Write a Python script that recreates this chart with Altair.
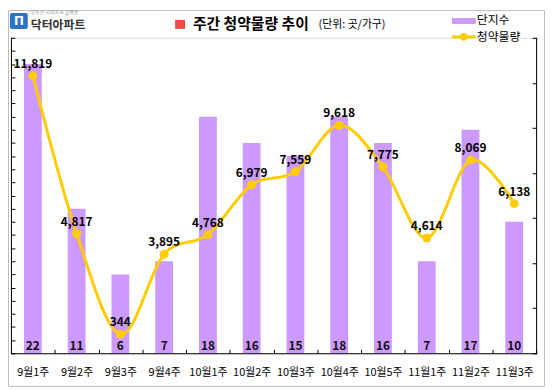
import altair as alt
import pandas as pd

weeks = ["9월1주", "9월2주", "9월3주", "9월4주", "10월1주", "10월2주",
         "10월3주", "10월4주", "10월5주", "11월1주", "11월2주", "11월3주"]
complexes = [22, 11, 6, 7, 18, 16, 15, 18, 16, 7, 17, 10]
supply = [11819, 4817, 344, 3895, 4768, 6979, 7559, 9618, 7775, 4614, 8069, 6138]

left_ticks = list(range(0, 25))
right_ticks = [-500, 1500, 3500, 5500, 7500, 9500, 11500, 13500]

df = pd.DataFrame({"week": weeks, "complexes": complexes, "supply": supply})
df["supply_label"] = df["supply"].map("{:,}".format)

W, H = 531, 319
FONT = "Noto Sans CJK KR"
BAR_C = "#CC99FF"
LINE_C = "#FFCC00"
one = alt.Data(values=[{"k": 1}])

x = alt.X("week:N", sort=weeks,
          scale=alt.Scale(paddingInner=0, paddingOuter=0),
          axis=alt.Axis(title=None, domain=False, tickSize=4, offset=-4,
                        tickBand="extent", tickColor="#000", labelAngle=0,
                        labelFont=FONT, labelFontSize=11, labelColor="#000",
                        labelPadding=13, grid=False))

bars = alt.Chart(df).mark_bar(width=18, color=BAR_C).encode(
    x=x,
    y=alt.Y("complexes:Q", scale=alt.Scale(domain=[0, 24], nice=False),
            axis=alt.Axis(title=None, orient="left", domain=False, labels=False,
                          tickSize=4, offset=-4, values=left_ticks,
                          tickColor="#000", grid=False)),
)
bar_labels = alt.Chart(df).mark_text(font=FONT, fontSize=12, fontWeight="bold",
                                     color="#111", baseline="middle").encode(
    x=x, y=alt.value(312), text="complexes:Q")

yr = alt.Y("supply:Q", scale=alt.Scale(domain=[-500, 13500], nice=False, zero=False),
           axis=alt.Axis(title=None, orient="right", domain=False, labels=False,
                         tickSize=4, offset=-4, values=right_ticks,
                         tickColor="#000", grid=False))
line = alt.Chart(df).mark_line(color=LINE_C, strokeWidth=3,
                               interpolate="cardinal", tension=0).encode(x=x, y=yr)
pts = alt.Chart(df).mark_point(filled=True, size=80, color=LINE_C, opacity=1).encode(x=x, y=yr)
pt_labels = alt.Chart(df).mark_text(font=FONT, fontSize=12, fontWeight="bold",
                                    color="#000", dy=-12, baseline="middle").encode(
    x=x, y=yr, text="supply_label:N")

left = alt.layer(bars, bar_labels)
right = alt.layer(line, pts, pt_labels)

# axis lines
ax_left = alt.Chart(one).mark_rule(color="#000").encode(
    x=alt.value(0.5), y=alt.value(0), y2=alt.value(H))
ax_right = alt.Chart(one).mark_rule(color="#000").encode(
    x=alt.value(W + 0.5), y=alt.value(0), y2=alt.value(H + 1))
ax_bottom = alt.Chart(one).mark_rule(color="#000").encode(
    x=alt.value(0), x2=alt.value(W + 1), y=alt.value(H + 0.5))

# outer frame
frame = alt.Chart(one).mark_rect(fill=None, stroke="#BDBDBD", strokeWidth=1).encode(
    x=alt.value(-2.5), x2=alt.value(539.5), y=alt.value(-27.5), y2=alt.value(352.5))

# logo
logo_box = alt.Chart(one).mark_rect(color="#2B73C6", cornerRadius=2).encode(
    x=alt.value(-1), x2=alt.value(17), y=alt.value(-25), y2=alt.value(-9))
logo_glyph = alt.Chart(one).mark_text(font="DejaVu Sans", fontSize=12, fontWeight="bold",
                                      color="#fff").encode(
    x=alt.value(8), y=alt.value(-17), text=alt.value("Π"))
logo_small = alt.Chart(one).mark_text(font=FONT, fontSize=5, color="#8A96A8", align="left").encode(
    x=alt.value(20), y=alt.value(-26), text=alt.value("부동산 리서치 & 플랫폼"))
logo_text = alt.Chart(one).mark_text(font=FONT, fontSize=12, fontWeight="bold",
                                     color="#333", align="left").encode(
    x=alt.value(20), y=alt.value(-12.5), text=alt.value("닥터아파트"))

# title
red_sq = alt.Chart(one).mark_rect(color="#EE4B4B").encode(
    x=alt.value(166), x2=alt.value(176), y=alt.value(-18), y2=alt.value(-9))
title = alt.Chart(one).mark_text(font=FONT, fontSize=15, fontWeight="bold",
                                 color="#000", align="left").encode(
    x=alt.value(184), y=alt.value(-13.5), text=alt.value("주간 청약물량 추이"))
subtitle = alt.Chart(one).mark_text(font=FONT, fontSize=11, color="#000", align="left").encode(
    x=alt.value(311), y=alt.value(-12.5), text=alt.value("(단위: 곳/가구)"))

# legend
leg_bar = alt.Chart(one).mark_rect(color=BAR_C).encode(
    x=alt.value(446), x2=alt.value(470), y=alt.value(-20), y2=alt.value(-14))
leg_bar_t = alt.Chart(one).mark_text(font=FONT, fontSize=12, color="#000", align="left").encode(
    x=alt.value(471), y=alt.value(-17.5), text=alt.value("단지수"))
leg_line = alt.Chart(one).mark_rule(color=LINE_C, strokeWidth=3).encode(
    x=alt.value(446), x2=alt.value(470), y=alt.value(-1))
leg_pt = alt.Chart(one).mark_point(filled=True, size=60, color=LINE_C, opacity=1).encode(
    x=alt.value(458), y=alt.value(-1))
leg_line_t = alt.Chart(one).mark_text(font=FONT, fontSize=12, color="#000", align="left").encode(
    x=alt.value(471), y=alt.value(-1), text=alt.value("청약물량"))

chart = alt.layer(
    left, right,
    ax_left, ax_right, ax_bottom, frame,
    logo_box, logo_glyph, logo_small, logo_text,
    red_sq, title, subtitle,
    leg_bar, leg_bar_t, leg_line, leg_pt, leg_line_t,
).resolve_scale(y="independent").properties(
    width=W, height=H,
    padding={"left": 3, "top": 28, "right": 9, "bottom": 34},
    autosize=alt.AutoSizeParams(type="none"),
).configure_view(stroke=None).configure(background="white")

chart.save("out.html", embed_options={"renderer": "svg", "actions": False})
